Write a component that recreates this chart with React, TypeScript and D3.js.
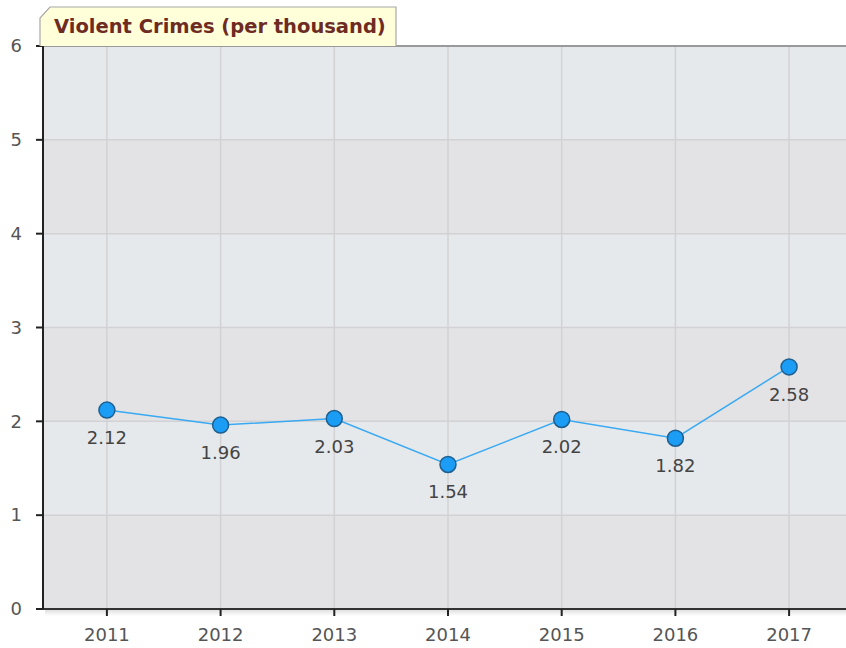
import React from "react";
import * as d3 from "d3";

const years = ["2011", "2012", "2013", "2014", "2015", "2016", "2017"];
const values = [2.12, 1.96, 2.03, 1.54, 2.02, 1.82, 2.58];
const yTicks = [0, 1, 2, 3, 4, 5, 6];
const title = "Violent Crimes (per thousand)";

export default function App() {
  const W = 846, H = 648;
  const left = 43, right = 853, top = 46, bottom = 609;
  const x = d3.scalePoint<string>().domain(years).range([left, right]).padding(0.562);
  const y = d3.scaleLinear().domain([0, 6]).range([bottom, top]);
  const line = d3.line<number>().x((_, i) => x(years[i])!).y((d) => y(d));
  const font = "Verdana, 'DejaVu Sans', sans-serif";
  const stripes = d3.range(0, 6);
  return (
    <svg width={W} height={H} style={{ position: "absolute", left: 0, top: 0 }}>
      <rect x={0} y={0} width={W} height={H} fill="#ffffff" />
      <defs>
        <linearGradient id="shadow" x1="0" y1="0" x2="0" y2="1">
          <stop offset="0" stopColor="#000" stopOpacity={0.12} />
          <stop offset="1" stopColor="#000" stopOpacity={0} />
        </linearGradient>
      </defs>
      {stripes.map((s) => (
        <rect key={s} x={left} y={y(s + 1)} width={W - left} height={y(s) - y(s + 1)}
          fill={s % 2 === 0 ? "#e3e3e5" : "#e6e9ec"} />
      ))}
      {yTicks.map((t) => (
        <line key={"gy" + t} x1={left} x2={W} y1={y(t)} y2={y(t)} stroke="#d2d2d4" strokeWidth={1.5} />
      ))}
      {years.map((yr) => (
        <line key={"gx" + yr} x1={x(yr)} x2={x(yr)} y1={top} y2={bottom} stroke="#d2d2d4" strokeWidth={1.5} />
      ))}
      <line x1={left} x2={W} y1={top} y2={top} stroke="#9a9a9a" strokeWidth={2} />
      <rect x={left + 2} y={bottom + 1} width={W - left} height={6} fill="url(#shadow)" />
      <line x1={left} x2={W} y1={bottom} y2={bottom} stroke="#333" strokeWidth={2} />
      <line x1={left} x2={left} y1={top - 1} y2={bottom + 1} stroke="#222" strokeWidth={2} />
      {yTicks.map((t) => (
        <g key={"ty" + t}>
          <line x1={left - 7} x2={left} y1={y(t)} y2={y(t)} stroke="#222" strokeWidth={2} />
          <text x={left - 21} y={y(t)} dy="0.35em" textAnchor="end" fontFamily={font} fontSize={18} fill="#555">{t}</text>
        </g>
      ))}
      {years.map((yr) => (
        <g key={"tx" + yr}>
          <line x1={x(yr)} x2={x(yr)} y1={bottom} y2={bottom + 7} stroke="#222" strokeWidth={2} />
          <text x={x(yr)} y={bottom + 32} textAnchor="middle" fontFamily={font} fontSize={18} fill="#555">{yr}</text>
        </g>
      ))}
      <path d={line(values)!} fill="none" stroke="#39a9f2" strokeWidth={1.5} />
      {values.map((v, i) => (
        <g key={"p" + i}>
          <circle cx={x(years[i])} cy={y(v)} r={8} fill="#1b9cf5" stroke="#1f5f8f" strokeWidth={1.5} />
          <text x={x(years[i])} y={y(v) + 34} textAnchor="middle" fontFamily={font} fontSize={18} fill="#444">{v.toFixed(2)}</text>
        </g>
      ))}
      <path d="M40,46 L40,18 L50,7 L396,7 L396,46" fill="#ffffda" stroke="#a8a8a8" strokeWidth={1.2} />
      <text x={54} y={33} fontFamily={font} fontSize={19.5} fontWeight="bold" fill="#6e2b22">{title}</text>
    </svg>
  );
}
